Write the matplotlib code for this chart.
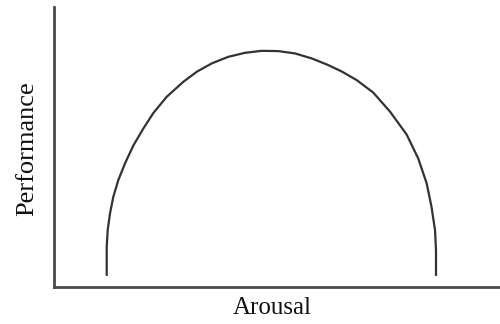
#!/usr/bin/env python3
"""Inverted-U (Yerkes-Dodson style) arousal vs performance sketch."""

import matplotlib

matplotlib.use("Agg")
import matplotlib.pyplot as plt

# Curve points (axes units 0-100)
arousal = [11.82, 11.82, 11.82, 12.04, 12.56, 13.30, 14.42, 15.92, 17.78,
           20.02, 22.26, 25.27, 28.99, 32.06, 35.36, 39.08, 42.83, 46.57,
           50.29, 54.04, 57.78, 61.50, 64.57, 67.87, 71.59, 75.34, 79.08,
           81.68, 83.56, 84.64, 85.43, 85.65, 85.65]
performance = [4.0, 8.46, 14.39, 20.36, 26.32, 32.25, 38.21, 44.18, 50.54,
               56.61, 62.14, 67.96, 73.32, 76.96, 79.89, 82.25, 83.68, 84.39,
               84.29, 83.46, 81.68, 79.29, 76.96, 73.93, 69.46, 62.68, 54.46,
               45.89, 37.04, 28.68, 20.36, 13.21, 4.0]

x_label = "Arousal"
y_label = "Performance"


def main() -> None:
    plt.rcParams["font.family"] = ["Liberation Serif", "DejaVu Serif"]

    fig = plt.figure(figsize=(5.0, 3.24), dpi=100)
    ax = fig.add_axes([0.108, 0.114, 0.892, 0.864])

    ax.plot(arousal, performance, color="#333333", lw=1.6,
            solid_joinstyle="round", solid_capstyle="butt")

    ax.set_xlim(0, 100)
    ax.set_ylim(0, 100)
    ax.set_xticks([])
    ax.set_yticks([])

    for side in ("top", "right"):
        ax.spines[side].set_visible(False)
    for side in ("left", "bottom"):
        ax.spines[side].set_color("#4a4a4a")
        ax.spines[side].set_linewidth(2.0)

    ax.set_xlabel(x_label, fontsize=18, color="#111111")
    ax.set_ylabel(y_label, fontsize=19, color="#111111")
    ax.xaxis.set_label_coords(0.489, -0.036)
    ax.yaxis.set_label_coords(-0.036, 0.496)

    fig.savefig("out.png", dpi=100)
    plt.close(fig)


if __name__ == "__main__":
    main()
